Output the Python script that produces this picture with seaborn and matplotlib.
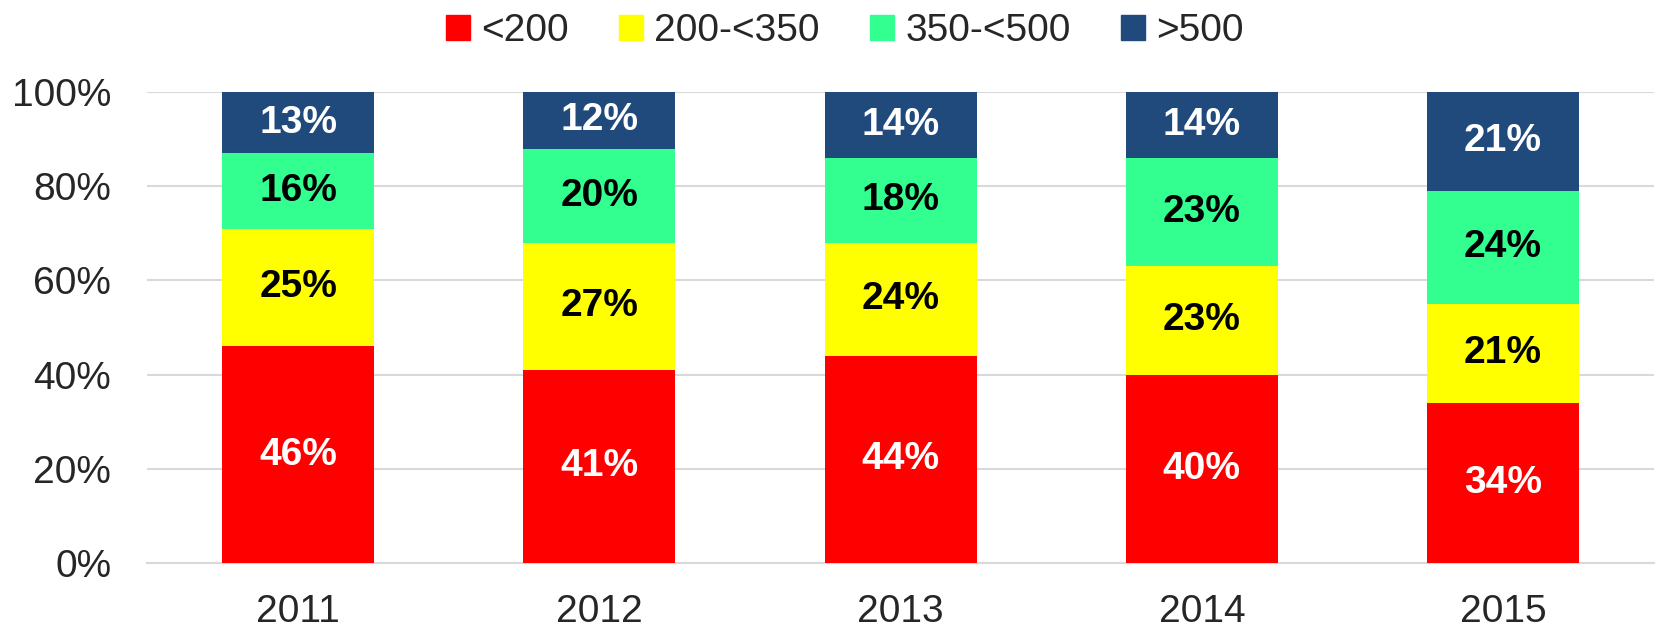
import matplotlib
matplotlib.use("Agg")
import matplotlib.pyplot as plt
import matplotlib.patches as mpatches
import seaborn as sns
import numpy as np

# Dados
anos = ["2011", "2012", "2013", "2014", "2015"]
categorias = ["<200", "200-<350", "350-<500", ">500"]
menor_200 = [46, 41, 44, 40, 34]
de_200_350 = [25, 27, 24, 23, 21]
de_350_500 = [16, 20, 18, 23, 24]
maior_500 = [13, 12, 14, 14, 21]

series = [menor_200, de_200_350, de_350_500, maior_500]
cores = ["#FF0000", "#FFFF00", "#33FF90", "#214A7C"]
cores_texto = ["white", "black", "black", "white"]

sns.set_theme(style="white")
plt.rcParams["font.family"] = ["Liberation Sans", "DejaVu Sans"]

fig = plt.figure(figsize=(16.57, 6.28), dpi=100)
ax = fig.add_axes([0.089, 0.1035, 0.909, 0.75])

base = np.zeros(len(anos))
for valores, cor, cor_txt in zip(series, cores, cores_texto):
    sns.barplot(x=anos, y=valores, bottom=base, color=cor, width=0.505,
                saturation=1, linewidth=0, ax=ax, zorder=3)
    cont = ax.containers[-1]
    ax.bar_label(cont, labels=[f"{v}%" for v in valores], label_type="center",
                 color=cor_txt, fontsize=28, fontweight="bold")
    base = base + np.array(valores)

ax.set_ylim(0, 100)
ax.set_xlim(-0.5, 4.5)
ax.set_yticks(range(0, 101, 20))
ax.set_yticklabels([f"{t}%" for t in range(0, 101, 20)], fontsize=28)
ax.tick_params(axis="x", labelsize=28, pad=22, length=0)
ax.tick_params(axis="y", pad=26, length=0)
ax.set_xlabel("")
ax.set_ylabel("")
ax.yaxis.grid(True, color="#D9D9D9", linewidth=1.5, zorder=0)
for lado in ["top", "right", "left"]:
    ax.spines[lado].set_visible(False)
ax.spines["bottom"].set_color("#D9D9D9")
ax.spines["bottom"].set_linewidth(1.5)

handles = [mpatches.Patch(color=c, label=l) for c, l in zip(cores, categorias)]
fig.legend(handles=handles, loc="upper center", bbox_to_anchor=(0.510, 1.035),
           ncol=4, frameon=False, fontsize=28, handlelength=0.6,
           handleheight=0.6, handletextpad=0.3, columnspacing=1.3)

plt.savefig("out.png", dpi=100)
